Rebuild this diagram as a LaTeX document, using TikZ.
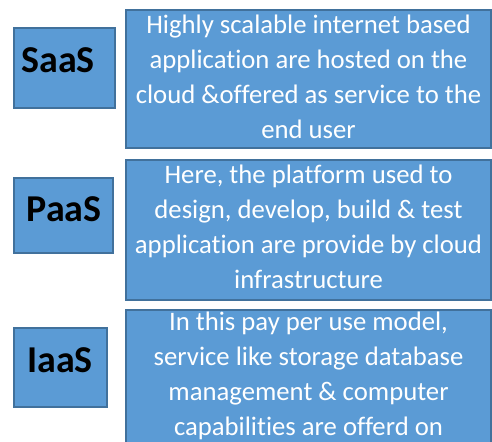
\documentclass[tikz,border=0pt]{standalone}
\usepackage{fontspec}
\setmainfont{Carlito}[Ligatures=NoCommon]
\begin{document}
\begin{tikzpicture}
  \definecolor{cloudblue}{HTML}{5B9BD5}
  \definecolor{edgeblue}{HTML}{41719C}
  \tikzset{tagbox/.style={draw=edgeblue,fill=cloudblue,line width=1pt,inner sep=0pt},
    tag/.style={font=\fontsize{27}{32}\selectfont\bfseries,text=black,inner sep=0pt},
    descbox/.style={draw=edgeblue,fill=cloudblue,line width=1pt,minimum width=9.125cm,inner sep=0pt},
    desc/.style={font=\fontsize{19}{24.9}\selectfont,text=white,align=center,inner sep=0pt,anchor=north}}
  \useasboundingbox (0,0) rectangle (12.3,-11.025);
  \clip (0,0) rectangle (12.3,-11.025);
  % left column
  \node[tagbox,minimum width=2.525cm,minimum height=2cm] (saasbox) at (1.6125,-1.7) {};
  \node[tagbox,minimum width=2.475cm,minimum height=1.875cm] (paasbox) at (1.5875,-5.3875) {};
  \node[tagbox,minimum width=2.325cm,minimum height=1.975cm] (iaasbox) at (1.5125,-9.1875) {};
  \node[tag] (saas) at (1.45,-1.5) {SaaS};
  \node[tag] (paas) at (1.6,-5.2375) {PaaS};
  \node[tag] (iaas) at (1.5,-9.0) {IaaS};
  % right column
  \node[descbox,minimum height=3.45cm] (saasdesc) at (7.7125,-1.975) {};
  \node[descbox,minimum height=3.5cm] (paasdesc) at (7.7125,-5.75) {};
  \node[descbox,minimum height=4.5cm] (iaasdesc) at (7.7125,-10) {};
  \node[desc] (saastext) at ([yshift=-0.14cm]saasdesc.north) {Highly scalable internet based\\application are hosted on the\\cloud \&offered as service to the\\end user};
  \node[desc] (paastext) at ([yshift=-0.14cm]paasdesc.north) {Here, the platform used to\\design, develop, build \& test\\application are provide by cloud\\infrastructure};
  \node[desc] (iaastext) at ([yshift=-0.05cm]iaasdesc.north) {In this pay per use model,\\service like storage database\\management \& computer\\capabilities are offerd on};
\end{tikzpicture}
\end{document}
